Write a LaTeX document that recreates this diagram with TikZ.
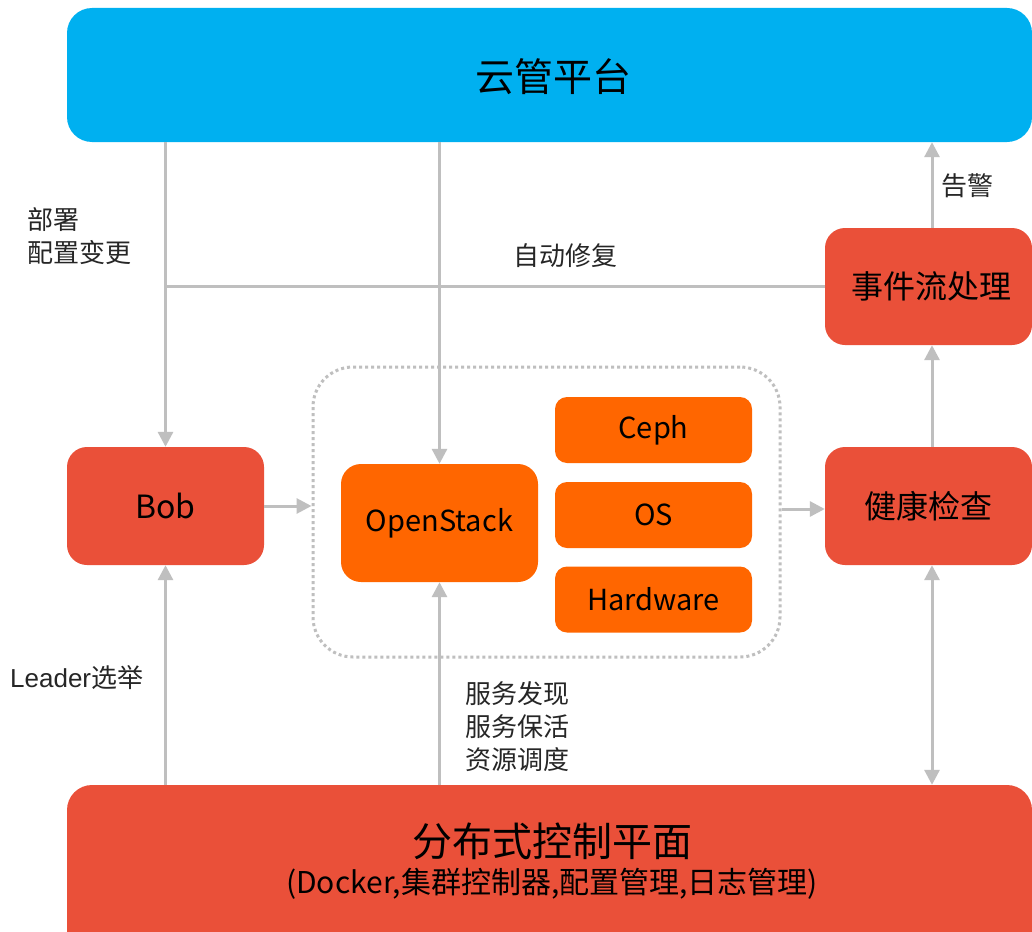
\documentclass[tikz,border=0pt]{standalone}
\usepackage{fontspec}
\setmainfont{Noto Sans CJK SC}
\newfontfamily\latinfont{Liberation Sans}
\usetikzlibrary{arrows.meta}
\definecolor{cloudblue}{HTML}{00B0F0}
\definecolor{boxred}{HTML}{EA5039}
\definecolor{boxorange}{HTML}{FF6600}
\definecolor{linegray}{HTML}{BFBFBF}
\tikzset{
  redbox/.style={fill=boxred, rounded corners=20pt, minimum width=197pt, minimum height=118pt, inner sep=0pt, font=\fontsize{32}{36}\selectfont},
  orangebox/.style={fill=boxorange, rounded corners=12pt, minimum width=197pt, minimum height=66pt, inner sep=0pt, font=\fontsize{29}{32}\selectfont},
  conn/.style={draw=linegray, line width=3pt},
  arr/.style={conn, -{Triangle[length=15pt,width=15pt]}},
  darr/.style={conn, {Triangle[length=15pt,width=15pt]}-{Triangle[length=15pt,width=15pt]}},
  lbl/.style={inner sep=0pt, font=\fontsize{26}{33}\selectfont, text=black!85},
}
\begin{document}
\begin{tikzpicture}[x=1pt,y=-1pt]
\clip (0,0) rectangle (1032,931);
\fill[white] (0,0) rectangle (1032,931);
% boxes
\node[fill=cloudblue, rounded corners=25pt, minimum width=965pt, minimum height=134pt, inner sep=0pt] (top) at (549.5,75) {};
\node[font=\fontsize{39}{42}\selectfont] (toptext) at (553,77) {云管平台};
\node[redbox, minimum width=207pt, minimum height=117pt] (events) at (928.5,286.5) {\hspace*{6pt}事件流处理};
\node[redbox, minimum width=207pt] (health) at (928.5,506) {健康检查};
\node[redbox, font=\fontsize{32}{36}\selectfont] (bob) at (165.5,506) {Bob};
\node[draw=linegray, line width=3pt, dash pattern=on 3pt off 3pt, rounded corners=40pt, minimum width=467pt, minimum height=290pt, inner sep=0pt] (stack) at (546.5,512) {};
\node[orangebox, minimum height=118pt, rounded corners=20pt] (os) at (439.5,523) {OpenStack};
\node[orangebox] (ceph) at (653.5,430) {Ceph};
\node[orangebox] (osys) at (653.5,515) {OS};
\node[orangebox] (hw) at (653.5,599.5) {Hardware};
\node[fill=boxred, rounded corners=25pt, minimum width=965pt, minimum height=180pt, inner sep=0pt] (bottom) at (549.5,875) {};
\node[font=\fontsize{40}{43}\selectfont] (bt1) at (552,841) {分布式控制平面};
\node[font=\fontsize{30}{32}\selectfont] (bt2) at (552,884) {(Docker,集群控制器,配置管理,日志管理)};
% connectors
\draw[arr] (top.south -| bob.north) -- (bob.north);
\draw[arr] (top.south -| os.north) -- (os.north);
\draw[conn] (events.west -| bob.north) -- (events.west);
\draw[arr] ([xshift=3.5pt]events.north) -- ([xshift=3.5pt]events.north |- top.south);
\draw[arr] ([xshift=3.5pt]health.north) -- ([xshift=3.5pt]health.north |- events.south);
\draw[darr] ([xshift=3.5pt]health.south) -- ([xshift=3.5pt]health.south |- bottom.north);
\draw[arr] (bob.east) -- (bob.east -| stack.west);
\draw[arr] ([yshift=-3pt]health.west -| stack.east) -- ([yshift=-3pt]health.west);
\draw[arr] (bottom.north -| os.south) -- (os.south);
\draw[arr] (bottom.north -| bob.south) -- (bob.south);
% labels
\node[lbl, anchor=north west, align=left] (l1) at (27,207) {部署\\配置变更};
\node[lbl] (l2) at (565,256) {自动修复};
\node[lbl] (l3) at (967,186) {告警};
\node[lbl, anchor=west] (l4) at (10,678) {{\latinfont Leader}选举};
\node[lbl, anchor=north west, align=left] (l5) at (465,681) {服务发现\\服务保活\\资源调度};
\end{tikzpicture}
\end{document}
